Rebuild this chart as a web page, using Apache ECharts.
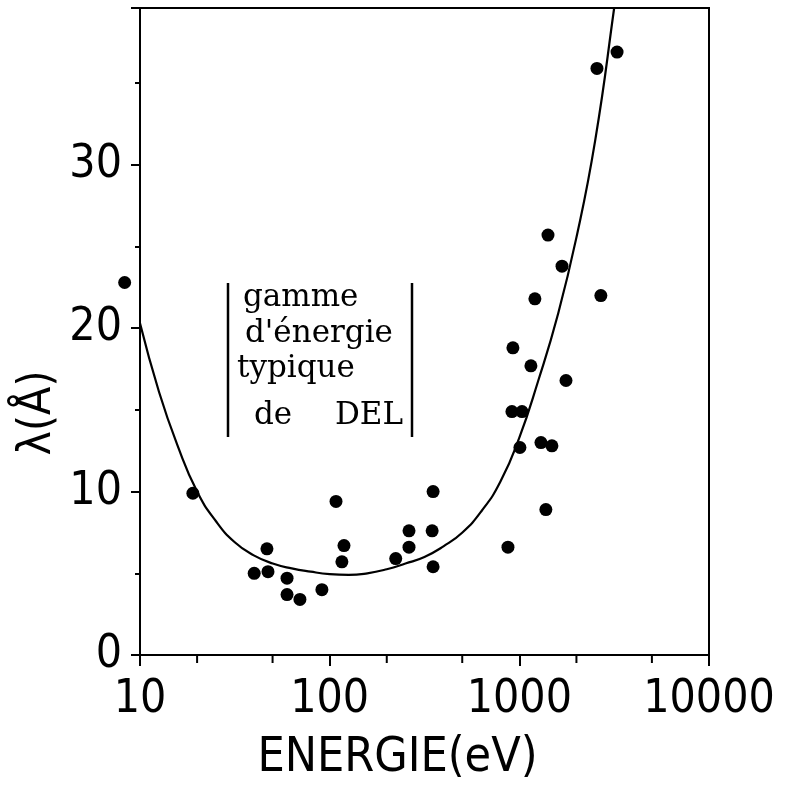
<!DOCTYPE html>
<html>
<head>
<meta charset="utf-8">
<title>Libre parcours moyen</title>
<script src="https://cdn.jsdelivr.net/npm/echarts@6/dist/echarts.min.js"></script>
<style>
    html, body { margin: 0; padding: 0; background: #fff; }
    #chart { width: 801px; height: 793px; }
</style>
</head>
<body>
<div id="chart"></div>
<script>
// points mesurés (énergie en eV, lambda en Å)
const energyPts = [8.3, 19.0, 40, 46.7, 47.3, 59.6, 59.6, 69.7, 91, 108, 119, 116,
    223, 262, 262, 351, 347, 351, 871, 914, 925, 1007, 1033, 1151, 1208, 1300,
    1380, 1416, 1485, 1679, 1762, 2566, 2690, 3275];
const lambdaPts = [22.8, 9.9, 5.0, 6.5, 5.1, 4.7, 3.7, 3.4, 4.0, 9.4, 6.7, 5.7,
    5.9, 7.6, 6.6, 10.0, 7.6, 5.4, 6.6, 14.9, 18.8, 12.7, 14.9, 17.7, 21.8, 13.0,
    8.9, 25.7, 12.8, 23.8, 16.8, 35.9, 22.0, 36.9];

// courbe universelle, lue tous les 1/10 de décade
const curveE = [10, 12.6, 15.8, 20, 25.1, 31.6, 39.8, 50.1, 63.1, 79.4, 100, 126,
    158, 200, 251, 316, 398, 501, 631, 794, 1000, 1259, 1585, 1995, 2512, 3162, 3400];
const curveL = [20.3, 16.1, 12.8, 10.0, 8.2, 6.9, 6.1, 5.6, 5.3, 5.1, 4.95, 4.9,
    5.0, 5.25, 5.6, 6.0, 6.65, 7.5, 8.8, 10.6, 13.3, 16.8, 20.7, 25.5, 31.5, 39.6, 42.5];

// graduations secondaires de l'axe des énergies
const minorTickE = [20, 50, 200, 500, 2000, 5000];
const yTickLabels = [0, 10, 20, 30];

const labelFont = "'DejaVu Sans Condensed', 'DejaVu Sans', sans-serif";
const boxFont = "31px 'DejaVu Serif', serif";

const chart = echarts.init(document.getElementById('chart'));
chart.setOption({
    animation: false,
    grid: {
        left: 140, right: 92, top: 8, bottom: 138,
        show: true, borderColor: '#000', borderWidth: 2
    },
    xAxis: {
        type: 'log',
        logBase: 10,
        min: 10,
        max: 10000,
        name: 'ENERGIE(eV)',
        nameLocation: 'middle',
        nameGap: 80,
        nameTextStyle: {
            fontFamily: labelFont, fontSize: 48, color: '#000',
            padding: [0, 54, 0, 0]
        },
        axisLine: { lineStyle: { color: '#000', width: 2 } },
        axisTick: { inside: false, length: 11, lineStyle: { color: '#000', width: 2 } },
        axisLabel: {
            margin: 22, color: '#000', fontFamily: labelFont, fontSize: 46,
            formatter: v => String(Math.round(v))
        },
        splitLine: { show: false }
    },
    yAxis: {
        type: 'value',
        min: 0,
        max: 39.6,
        interval: 10,
        axisLine: { lineStyle: { color: '#000', width: 2 } },
        axisTick: { inside: false, length: 9, lineStyle: { color: '#000', width: 2 } },
        minorTick: { show: true, splitNumber: 2, length: 5, lineStyle: { color: '#000', width: 2 } },
        axisLabel: {
            margin: 18, color: '#000', fontFamily: labelFont, fontSize: 46,
            formatter: v => (yTickLabels.indexOf(v) >= 0 ? String(v) : '')
        },
        splitLine: { show: false }
    },
    graphic: [
        {
            type: 'text', x: 38, y: 413, rotation: Math.PI / 2,
            style: {
                text: 'λ(Å)', font: "46px " + labelFont, fill: '#000',
                align: 'center', verticalAlign: 'middle'
            }
        },
        { type: 'line', shape: { x1: 228, y1: 283, x2: 228, y2: 437 }, style: { stroke: '#000', lineWidth: 2.5 } },
        { type: 'line', shape: { x1: 412, y1: 283, x2: 412, y2: 437 }, style: { stroke: '#000', lineWidth: 2.5 } },
        { type: 'text', x: 243, y: 298, style: { text: 'gamme', font: boxFont, fill: '#000', verticalAlign: 'middle' } },
        { type: 'text', x: 245, y: 334, style: { text: "d'énergie", font: boxFont, fill: '#000', verticalAlign: 'middle' } },
        { type: 'text', x: 237, y: 369, style: { text: 'typique', font: boxFont, fill: '#000', verticalAlign: 'middle' } },
        { type: 'text', x: 254, y: 416, style: { text: 'de', font: boxFont, fill: '#000', verticalAlign: 'middle' } },
        { type: 'text', x: 335, y: 416, style: { text: 'DEL', font: boxFont, fill: '#000', verticalAlign: 'middle' } }
    ],
    series: [
        {
            type: 'line',
            data: curveE.map((e, i) => [e, curveL[i]]),
            smooth: 0.5,
            showSymbol: false,
            lineStyle: { color: '#000', width: 2.2 },
            clip: true,
            silent: true
        },
        {
            type: 'scatter',
            data: energyPts.map((e, i) => [e, lambdaPts[i]]),
            symbol: 'circle',
            symbolSize: 13,
            itemStyle: { color: '#000', opacity: 1 },
            clip: false
        },
        {
            type: 'scatter',
            data: minorTickE.map(e => [e, 0]),
            symbol: 'rect',
            symbolSize: [2, 7],
            symbolOffset: [0, 4.5],
            itemStyle: { color: '#000', opacity: 1 },
            clip: false,
            silent: true
        }
    ]
});
</script>
</body>
</html>
